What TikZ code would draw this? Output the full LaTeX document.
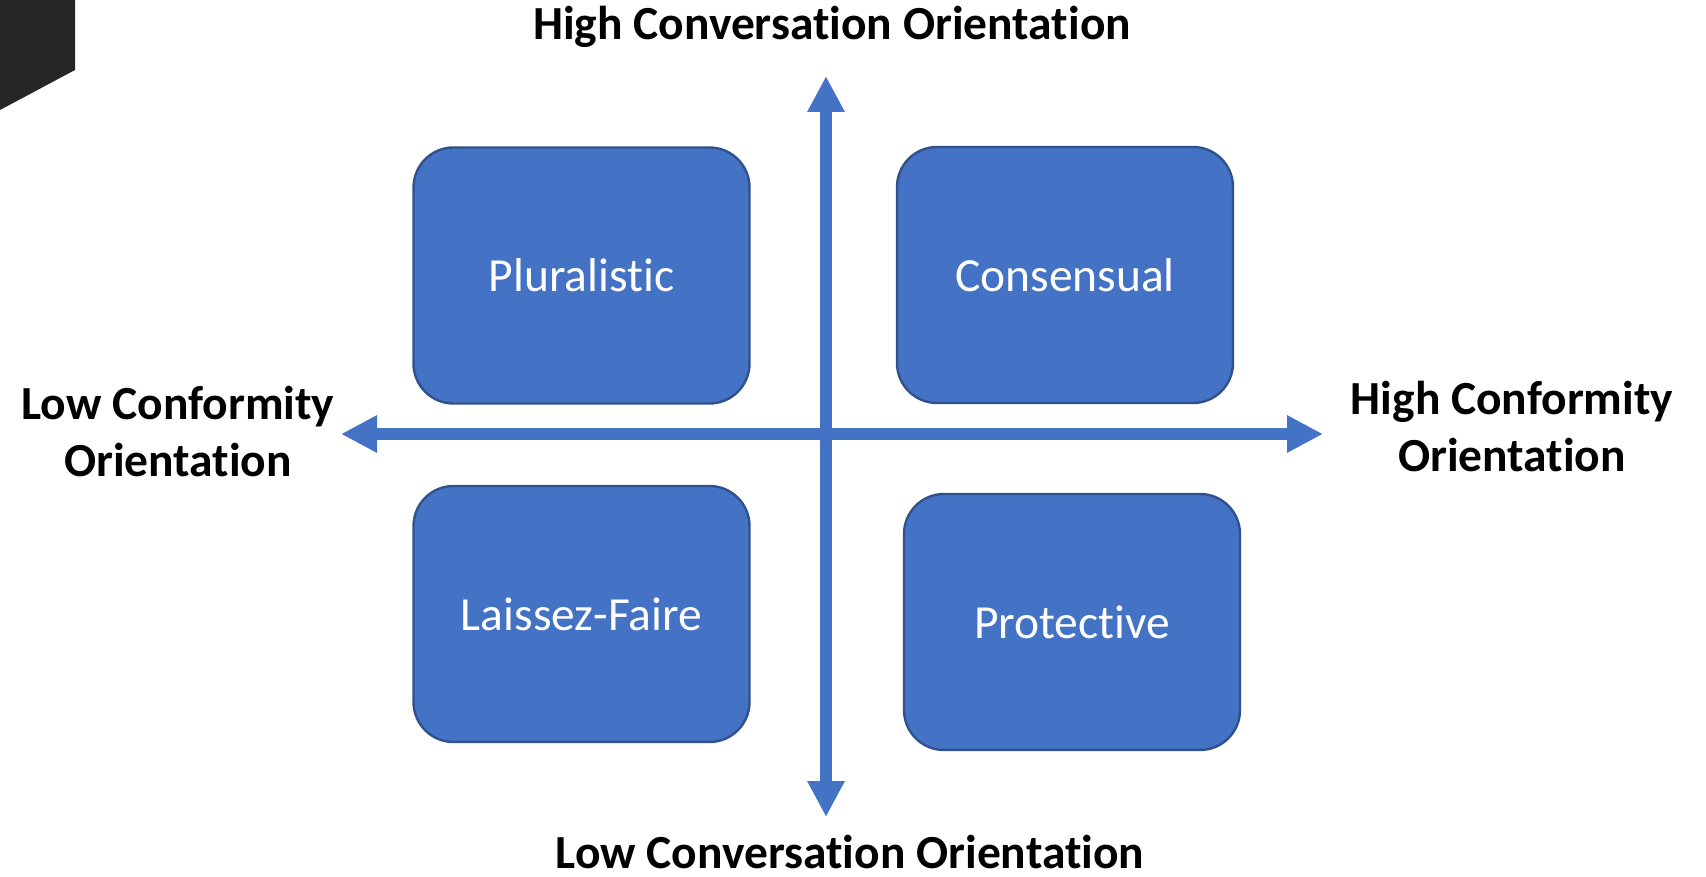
\documentclass[tikz,border=0pt]{standalone}
\usepackage{fontspec}
\setmainfont[Ligatures=NoCommon]{Carlito}
\usetikzlibrary{arrows.meta}
\definecolor{boxfill}{HTML}{4472C4}
\definecolor{boxline}{HTML}{2F528F}
\definecolor{corner}{HTML}{262626}
\tikzset{
  quad/.style={draw=boxline, line width=1.2pt, fill=boxfill, rounded corners=20pt,
    minimum width=168pt, minimum height=128pt, text=white,
    font=\fontsize{23.75}{28.5}\selectfont},
  axis/.style={draw=boxfill, line width=6pt,
    {Triangle[length=18pt,width=17.5pt]}-{Triangle[length=18pt,width=17.5pt]}},
  axislabel/.style={align=center, font=\bfseries\fontsize{23.75}{28.5}\selectfont, inner sep=0pt}
}
\begin{document}
\begin{tikzpicture}[x=0.5pt, y=-0.5pt]
  \useasboundingbox (0,0) rectangle (1706,877);
  % dark tab in the upper left corner
  \fill[corner] (0,0) -- (75,0) -- (75,70) -- (0,110) -- cycle;

  % the four quadrant boxes
  \node[quad] (plur) at (581.5,275.5) {Pluralistic};
  \node[quad] (cons) at (1065,275) {Consensual};
  \node[quad] (lais) at (581.5,614) {Laissez-Faire};
  \node[quad] (prot) at (1072,622) {Protective};

  % axes
  \coordinate (vtop) at (826,76);
  \coordinate (vbot) at (826,817);
  \coordinate (hleft) at (341,434);
  \coordinate (hright) at (1323,434);
  \draw[axis] (vtop) -- (vbot);
  \draw[axis] (hleft) -- (hright);

  % axis labels
  \node[axislabel] (ht) at (832,27) {High Conversation Orientation};
  \node[axislabel, anchor=base] (lb) at (850,868) {Low Conversation Orientation};
  \node[axislabel] (ll) at (178,432) {Low Conformity\\Orientation};
  \node[axislabel] (hr) at (1512,427) {High Conformity\\Orientation};
\end{tikzpicture}
\end{document}
